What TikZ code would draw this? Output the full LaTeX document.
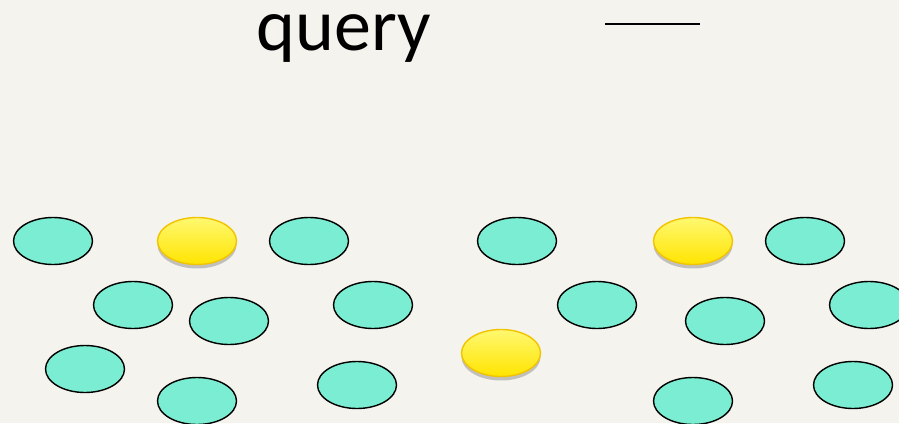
\documentclass[tikz,border=0pt]{standalone}
\usepackage{fontspec}
\setmainfont{Carlito}
\usetikzlibrary{shadows,shadings,shapes.geometric}
\definecolor{bg}{HTML}{F4F3ED}
\definecolor{greenfill}{HTML}{7AEDD2}
\definecolor{ytop}{HTML}{FFF870}
\definecolor{ybot}{HTML}{FFE400}
\definecolor{yborder}{HTML}{F2C400}
\tikzset{
  greenell/.style={ellipse, draw=black, line width=1.4pt, fill=greenfill, minimum width=79pt, minimum height=47pt, inner sep=0pt},
  yellowell/.style={ellipse, draw=yborder, line width=1.4pt, top color=ytop, bottom color=ybot, minimum width=79pt, minimum height=47pt, inner sep=0pt,
    drop shadow={shadow xshift=0pt, shadow yshift=-4pt, opacity=0.3, fill=black!70}},
}
\begin{document}
\begin{tikzpicture}[x=1pt,y=-1pt]
\fill[bg] (0,0) rectangle (899,423);
\useasboundingbox (0,0) rectangle (899,423);
\node[anchor=base, inner sep=0pt, text height=36pt, text depth=13pt] (title) at (344,50) {\fontsize{74}{80}\selectfont query};
\coordinate (l1) at (605,24);
\coordinate (l2) at (700,24);
\draw[line width=2pt] (l1) -- (l2);
% green ellipses
\node[greenell] (g1) at (53,241) {};
\node[greenell] (g2) at (309,241) {};
\node[greenell] (g3) at (133,305) {};
\node[greenell] (g4) at (229,321) {};
\node[greenell] (g5) at (373,305) {};
\node[greenell] (g6) at (85,369) {};
\node[greenell] (g7) at (197,401) {};
\node[greenell] (g8) at (357,385) {};
\node[greenell] (g9) at (517,241) {};
\node[greenell] (g10) at (805,241) {};
\node[greenell] (g11) at (597,305) {};
\node[greenell] (g12) at (725,321) {};
\node[greenell] (g13) at (869,305) {};
\node[greenell] (g14) at (693,401) {};
\node[greenell] (g15) at (853,385) {};
% yellow ellipses
\node[yellowell] (y1) at (197,241) {};
\node[yellowell] (y2) at (693,241) {};
\node[yellowell] (y3) at (501,353) {};
\end{tikzpicture}
\end{document}
